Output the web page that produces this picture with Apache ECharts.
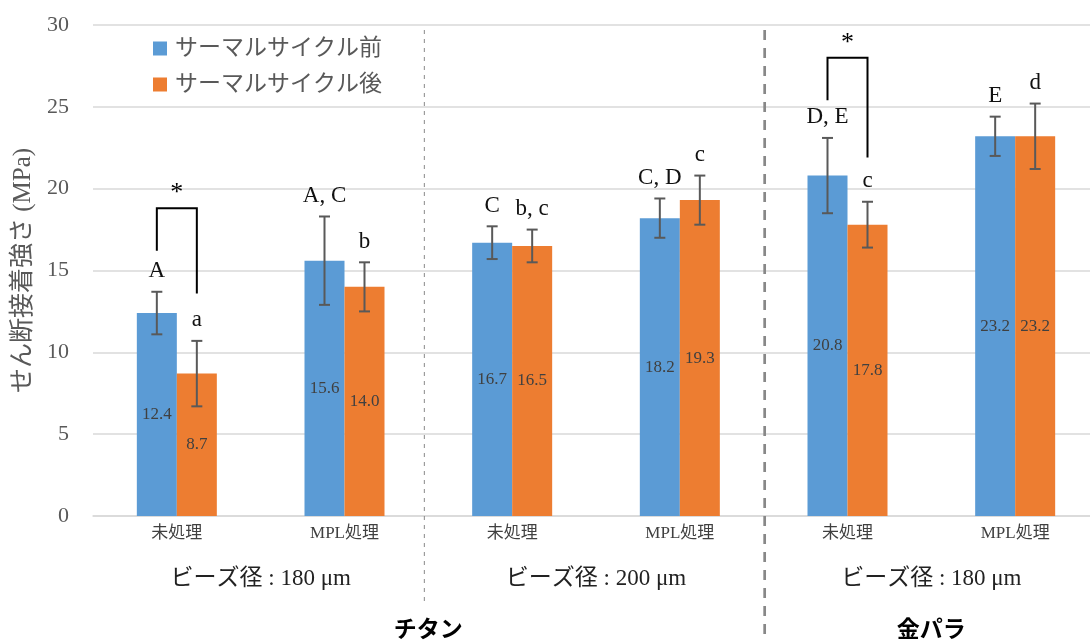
<!DOCTYPE html>
<html>
<head>
<meta charset="utf-8">
<script src="https://cdn.jsdelivr.net/npm/echarts@6/dist/echarts.min.js"></script>
<style>
  html, body { margin: 0; padding: 0; background: #fff; }
  #chart { width: 1090px; height: 641px; }
</style>
</head>
<body>
<div id="chart"></div>
<script>
// Shear bond strength before / after thermal cycling
const categories = ['未処理', 'MPL処理', '未処理', 'MPL処理', '未処理', 'MPL処理'];
const beadLabels = ['ビーズ径 : 180 μm', 'ビーズ径 : 200 μm', 'ビーズ径 : 180 μm'];
const materialLabels = ['チタン', '金パラ'];
const materialSpans = [[0, 3], [4, 5]];
const seriesNames = ['サーマルサイクル前', 'サーマルサイクル後'];
const beforeValues = [12.4, 15.6, 16.7, 18.2, 20.8, 23.2];
const afterValues = [8.7, 14.0, 16.5, 19.3, 17.8, 23.2];
const beforeErrors = [1.3, 2.7, 1.0, 1.2, 2.3, 1.2];
const afterErrors = [2.0, 1.5, 1.0, 1.5, 1.4, 2.0];
const beforeLetters = ['A', 'A, C', 'C', 'C, D', 'D, E', 'E'];
const afterLetters = ['a', 'b', 'b, c', 'c', 'c', 'd'];
// significance brackets: [category, bracket top, left foot, right foot]
const brackets = [[0, 18.8, 16.2, 13.6], [4, 28.0, 25.4, 21.9]];
const dividerAfter = [1, 3];
const yMin = 0, yMax = 30, yStep = 5;

const SERIF = '"Liberation Serif", "Times New Roman", "Noto Sans CJK JP", serif';
const BLUE = '#5B9BD5';
const ORANGE = '#ED7D31';
const BAR_W = 40;

const chart = echarts.init(document.getElementById('chart'));

function errorSeries(values, errors, letters, shift) {
  return {
    type: 'custom',
    z: 5,
    clip: false,
    silent: true,
    data: values.map((v, i) => [i, v, errors[i]]),
    encode: { x: 0, y: 1 },
    renderItem(params, api) {
      const i = api.value(0), v = api.value(1), e = api.value(2);
      const top = api.coord([i, v + e]);
      const bot = api.coord([i, v - e]);
      const x = top[0] + shift;
      const cap = 5.5;
      const st = { stroke: '#595959', lineWidth: 2 };
      return {
        type: 'group',
        children: [
          { type: 'line', shape: { x1: x, y1: top[1], x2: x, y2: bot[1] }, style: st },
          { type: 'line', shape: { x1: x - cap, y1: top[1], x2: x + cap, y2: top[1] }, style: st },
          { type: 'line', shape: { x1: x - cap, y1: bot[1], x2: x + cap, y2: bot[1] }, style: st },
          {
            type: 'text',
            style: {
              x: x, y: top[1] - 9,
              text: letters[params.dataIndex],
              font: '23px ' + SERIF,
              fill: '#111',
              align: 'center', verticalAlign: 'bottom'
            }
          }
        ]
      };
    }
  };
}

const option = {
  animation: false,
  textStyle: { fontFamily: SERIF },
  legend: {
    data: seriesNames,
    orient: 'vertical',
    left: 153,
    top: 37,
    padding: 0,
    itemWidth: 14,
    itemHeight: 14,
    itemGap: 13,
    icon: 'rect',
    textStyle: { fontSize: 23, color: '#595959', fontFamily: SERIF, padding: [0, 0, 0, 3] }
  },
  grid: { left: 93, top: 25, width: 1006, height: 491, outerBoundsMode: 'none', containLabel: false },
  xAxis: [
    {
      type: 'category',
      data: categories,
      axisLine: { lineStyle: { color: '#d9d9d9', width: 1.5 } },
      axisTick: { show: false },
      axisLabel: { fontSize: 17, color: '#404040', margin: 9, fontFamily: SERIF }
    },
    {
      type: 'category',
      data: beadLabels,
      position: 'bottom',
      offset: 48,
      axisLine: { show: false },
      axisTick: { show: false },
      axisLabel: { fontSize: 23, color: '#222', margin: 3, fontFamily: SERIF }
    }
  ],
  yAxis: {
    type: 'value',
    min: yMin, max: yMax, interval: yStep,
    name: 'せん断接着強さ (MPa)',
    nameLocation: 'middle',
    nameGap: 52,
    nameTextStyle: { fontSize: 25, color: '#595959', fontFamily: SERIF },
    axisLine: { show: false },
    axisTick: { show: false },
    axisLabel: { fontSize: 22, color: '#595959', margin: 24, fontFamily: SERIF },
    splitLine: { lineStyle: { color: '#d9d9d9', width: 1.5 } }
  },
  series: [
    {
      name: seriesNames[0],
      type: 'bar',
      data: beforeValues,
      barWidth: BAR_W,
      barGap: '0%',
      itemStyle: { color: BLUE },
      label: {
        show: true, position: 'inside', fontSize: 17, color: '#404040', fontFamily: SERIF,
        formatter: p => p.value.toFixed(1)
      }
    },
    {
      name: seriesNames[1],
      type: 'bar',
      data: afterValues,
      barWidth: BAR_W,
      barGap: '0%',
      itemStyle: { color: ORANGE },
      label: {
        show: true, position: 'inside', fontSize: 17, color: '#404040', fontFamily: SERIF,
        formatter: p => p.value.toFixed(1)
      }
    },
    errorSeries(beforeValues, beforeErrors, beforeLetters, -BAR_W / 2),
    errorSeries(afterValues, afterErrors, afterLetters, BAR_W / 2),
    {
      // significance brackets with asterisk
      type: 'custom',
      z: 6,
      clip: false,
      silent: true,
      data: brackets,
      encode: { x: 0, y: 1 },
      renderItem(params, api) {
        const i = api.value(0);
        const topY = api.coord([i, api.value(1)])[1];
        const lY = api.coord([i, api.value(2)])[1];
        const rY = api.coord([i, api.value(3)])[1];
        const cx = api.coord([i, 0])[0];
        const lx = cx - BAR_W / 2, rx = cx + BAR_W / 2;
        return {
          type: 'group',
          children: [
            { type: 'polyline', shape: { points: [[lx, lY], [lx, topY], [rx, topY], [rx, rY]] },
              style: { stroke: '#000', lineWidth: 2, fill: null } },
            { type: 'text', style: { x: cx, y: topY - 2, text: '*', font: '26px ' + SERIF,
              fill: '#000', align: 'center', verticalAlign: 'bottom' } }
          ]
        };
      }
    },
    {
      // group dividers and material names
      type: 'custom',
      z: 1,
      clip: false,
      silent: true,
      data: dividerAfter.map(d => [d, 0]),
      encode: { x: 0, y: 1 },
      renderItem(params, api) {
        const i = api.value(0);
        const band = api.size([1, 0])[0];
        const x = api.coord([i, 0])[0] + band / 2;
        const yTop = api.coord([i, yMax])[1] + 5;
        const bottom = api.getHeight();
        const children = [];
        if (params.dataIndex === 0) {
          children.push({ type: 'line', shape: { x1: x - 4, y1: yTop, x2: x - 4, y2: bottom - 36 },
            style: { stroke: '#888', lineWidth: 1, lineDash: [4, 5] } });
        } else {
          children.push({ type: 'line', shape: { x1: x + 1, y1: yTop, x2: x + 1, y2: bottom },
            style: { stroke: '#888', lineWidth: 2.7, lineDash: [10, 8] } });
        }
        const span = materialSpans[params.dataIndex];
        const mx = (api.coord([span[0], 0])[0] + api.coord([span[1], 0])[0]) / 2;
        children.push({ type: 'text', style: { x: mx, y: bottom - 13, text: materialLabels[params.dataIndex],
          font: 'bold 23px "Noto Sans CJK JP", sans-serif', fill: '#000', align: 'center', verticalAlign: 'middle' } });
        return { type: 'group', children };
      }
    }
  ]
};

chart.setOption(option);
</script>
</body>
</html>
